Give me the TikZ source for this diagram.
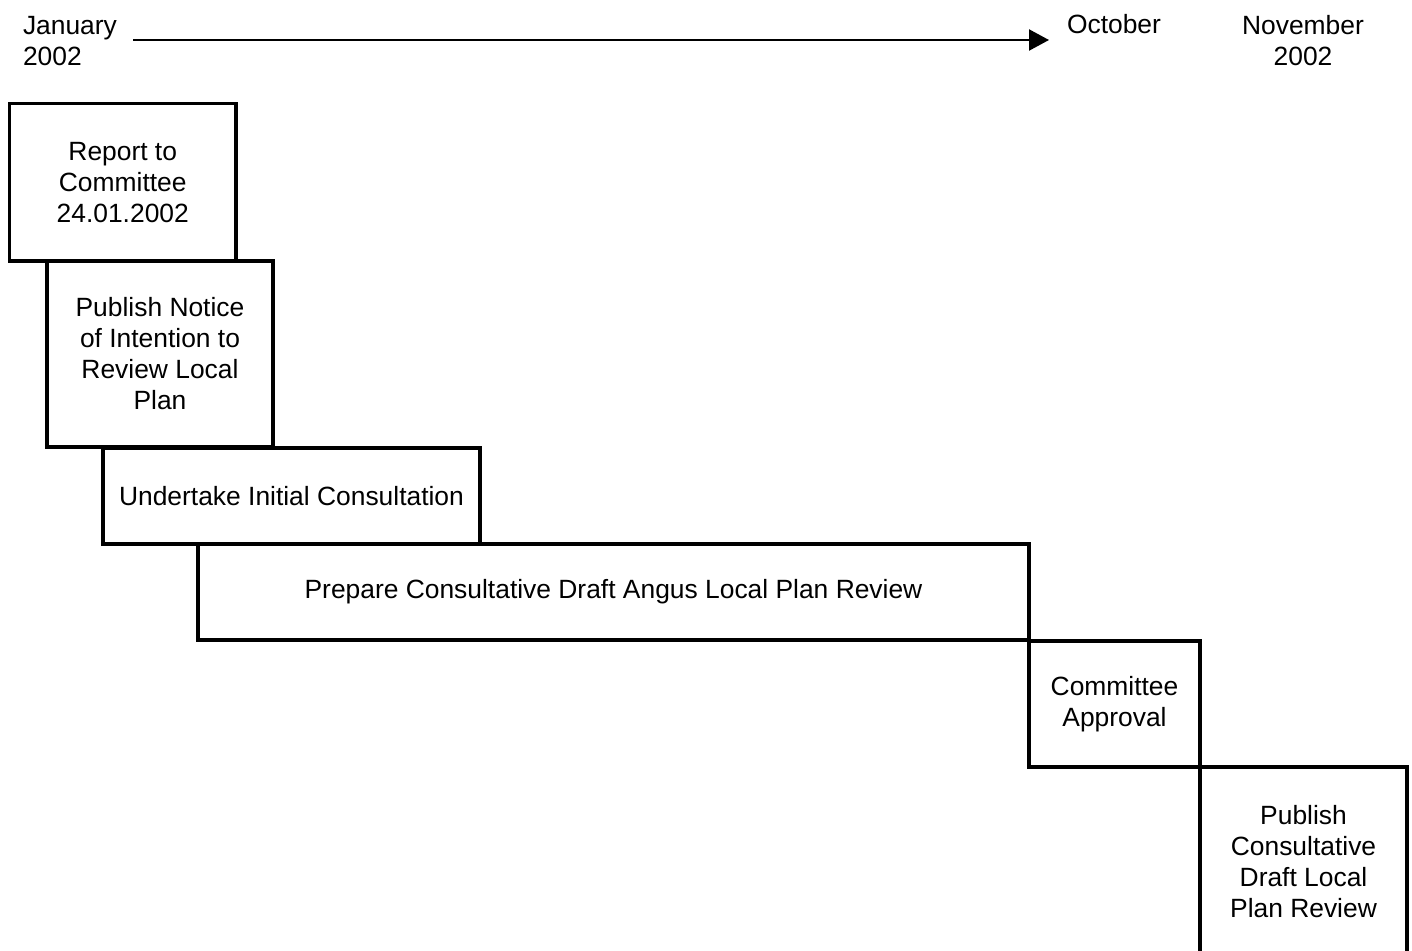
\documentclass[tikz,border=0pt]{standalone}
\usepackage{fontspec}
\setmainfont{Liberation Sans}
\usetikzlibrary{arrows.meta}
\begin{document}
\begin{tikzpicture}[x=1pt,y=-1pt,
  every node/.style={font=\fontsize{26.4}{31}\selectfont},
  stage/.style={draw, line width=3.5pt, align=center, inner sep=0pt, outer sep=0pt},
  lbl/.style={inner sep=0pt, outer sep=0pt}]
\clip (0,0) rectangle (1412,950);
\fill[white] (0,0) rectangle (1412,950);
% timeline
\node[lbl, anchor=base west, align=left] (jan) at (23,65) {January\\2002};
\node[lbl, anchor=base] (oct) at (1114,34) {October};
\node[lbl, anchor=base, align=center] (nov) at (1303,65) {November\\2002};
\coordinate (tstart) at (133,40);
\coordinate (tend) at (1049,40);
\draw[line width=2.2pt, -{Triangle[length=20pt,width=21pt]}] (tstart) -- (tend);
% stages
\node[stage, minimum width=226.5pt, minimum height=157.5pt] (s1) at (122.75,182.25) {Report to\\Committee\\24.01.2002};
\node[stage, minimum width=226pt, minimum height=186pt] (s2) at (160,354) {Publish Notice\\of Intention to\\Review Local\\Plan};
\node[stage, minimum width=377pt, minimum height=96pt] (s3) at (291.5,496) {Undertake Initial Consultation};
\node[stage, minimum width=831pt, minimum height=96pt] (s4) at (613.5,592) {Prepare Consultative Draft Angus Local Plan Review};
\node[stage, minimum width=171pt, minimum height=126pt] (s5) at (1114.5,704) {Committee\\Approval};
\node[stage, minimum width=207pt, minimum height=190pt] (s6) at (1303.5,862) {Publish\\Consultative\\Draft Local\\Plan Review};
\end{tikzpicture}
\end{document}
